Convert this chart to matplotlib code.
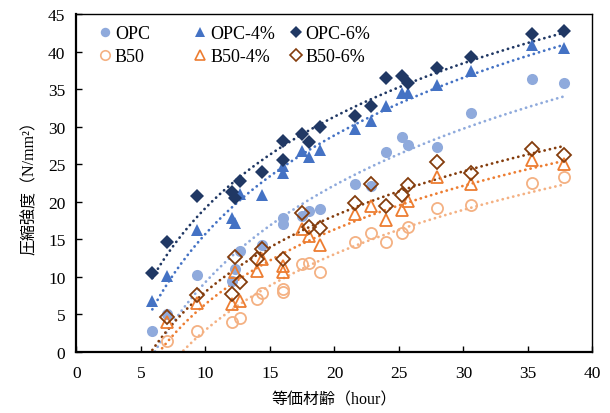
import numpy as np
import matplotlib
matplotlib.use("Agg")
import matplotlib.pyplot as plt
from matplotlib.lines import Line2D

plt.rcParams['font.family'] = ['Liberation Serif', 'Noto Sans CJK JP']

# equivalent age (hour) and compressive strength (N/mm2)
opc_x = [5.88, 7.04, 9.36, 12.03, 12.29, 12.67, 14.40, 16.03, 16.03, 17.50, 18.00,
         18.90, 21.57, 22.83, 23.99, 25.21, 25.67, 27.92, 30.58, 35.29, 37.79]
opc_y = [2.85, 5.06, 10.2, 9.5, 11.0, 13.5, 14.2, 17.9, 17.0, 18.1, 18.8,
         19.0, 22.4, 22.1, 26.6, 28.6, 27.6, 27.3, 31.8, 36.4, 35.8]
opc4_y = [6.75, 10.1, 16.2, 17.8, 17.2, 21.0, 20.9, 23.8, 24.8, 26.7, 25.9,
          26.9, 29.7, 30.7, 32.8, 34.5, 34.5, 35.5, 37.4, 40.9, 40.5]
opc6_y = [10.5, 14.6, 20.8, 21.3, 20.5, 22.8, 23.9, 25.6, 28.1, 29.0, 27.9,
          30.0, 31.4, 32.8, 36.5, 36.7, 35.8, 37.8, 39.3, 42.3, 42.8]

b50_x = [7.04, 9.36, 12.03, 12.67, 14.0, 14.40, 16.03, 16.03, 17.50, 18.00,
         18.90, 21.57, 22.83, 23.99, 25.21, 25.67, 27.92, 30.58, 35.29, 37.79]
b50_y = [1.5, 2.85, 3.95, 4.55, 7.1, 7.9, 8.4, 8.0, 11.7, 11.9,
         10.6, 14.6, 15.85, 14.7, 15.85, 16.7, 19.2, 19.6, 22.5, 23.3]

b504_x = [7.04, 9.36, 12.03, 12.29, 12.67, 14.0, 14.40, 16.03, 16.03, 17.50, 18.00,
          18.90, 21.57, 22.83, 23.99, 25.21, 25.67, 27.92, 30.58, 35.29, 37.79]
b504_y = [4.0, 6.5, 6.45, 10.6, 6.75, 10.8, 12.4, 10.6, 11.4, 16.4, 15.5,
          14.2, 18.4, 19.4, 17.6, 18.95, 20.1, 23.3, 22.4, 25.5, 25.0]

b506_x = [7.04, 9.36, 12.03, 12.29, 12.67, 14.0, 14.40, 16.03, 17.50, 18.00,
          18.90, 21.57, 22.83, 23.99, 25.21, 25.67, 27.92, 30.58, 35.29, 37.79]
b506_y = [4.6, 7.65, 7.7, 12.6, 9.35, 12.35, 13.75, 12.4, 18.5, 16.7,
          16.5, 19.8, 22.35, 19.4, 20.9, 22.2, 25.3, 23.8, 27.0, 26.2]

series = [
    # label, x, y, marker, colour, filled, size
    ('OPC', opc_x, opc_y, 'o', '#8FAADC', True, 8),
    ('B50', b50_x, b50_y, 'o', '#F4B183', False, 8),
    ('OPC-4%', opc_x, opc4_y, '^', '#4472C4', True, 9),
    ('B50-4%', b504_x, b504_y, '^', '#ED7D31', False, 9),
    ('OPC-6%', opc_x, opc6_y, 'D', '#203864', True, 6.8),
    ('B50-6%', b506_x, b506_y, 'D', '#843C0C', False, 6.8),
]

fig = plt.figure(figsize=(6.1, 4.14), dpi=100)
ax = fig.add_axes((0.1254, 0.1473, 0.8459, 0.8165))

x_lo = min(min(opc_x), min(b50_x))
x_hi = max(max(opc_x), max(b50_x))
xs = np.linspace(x_lo, x_hi, 200)

handles = {}
for label, x, y, mk, col, filled, ms in series:
    x = np.asarray(x)
    y = np.asarray(y)
    # logarithmic trendline as in the spreadsheet
    a, b = np.polyfit(np.log(x), y, 1)
    ax.plot(xs, a * np.log(xs) + b, color=col, lw=2.0,
            linestyle=(0, (0.05, 1.9)), dash_capstyle='round', zorder=2)
    ax.plot(x, y, linestyle='none', marker=mk, ms=ms, mfc=col if filled else 'none',
            mec=col, mew=0 if filled else 1.3, zorder=3)
    handles[label] = Line2D([0], [0], linestyle='none', marker=mk, ms=ms * 0.85,
                            mfc=col if filled else 'none', mec=col,
                            mew=0 if filled else 1.2)

ax.set_xlim(0, 40)
ax.set_ylim(0, 45)
ax.set_xticks(range(0, 41, 5))
ax.set_yticks(range(0, 46, 5))
ax.tick_params(direction='in', length=4, width=1, labelsize=12.5,
               top=False, right=False)
ax.tick_params(axis='x', pad=9)
ax.tick_params(axis='y', pad=8)
for side in ['left', 'bottom']:
    ax.spines[side].set_linewidth(1.6)
for side in ['top', 'right']:
    ax.spines[side].set_linewidth(1.0)

ax.set_xlabel('等価材齢（hour）', fontsize=11.5, labelpad=8)
ax.set_ylabel('圧縮強度（N/mm²）', fontsize=11.5, labelpad=7)

# legend in three fixed columns
col_pos = [0.02, 0.205, 0.39]
pairs = [('OPC', 'B50'), ('OPC-4%', 'B50-4%'), ('OPC-6%', 'B50-6%')]
for i, (xpos, (l1, l2)) in enumerate(zip(col_pos, pairs)):
    leg = ax.legend([handles[l1], handles[l2]], [l1, l2], loc='upper left',
                    bbox_to_anchor=(xpos, 1.005), frameon=False, fontsize=13,
                    handlelength=0.6, handletextpad=0.25, labelspacing=0.35,
                    borderaxespad=0.3)
    if i < len(pairs) - 1:
        ax.add_artist(leg)

fig.savefig('out.png', dpi=100)
